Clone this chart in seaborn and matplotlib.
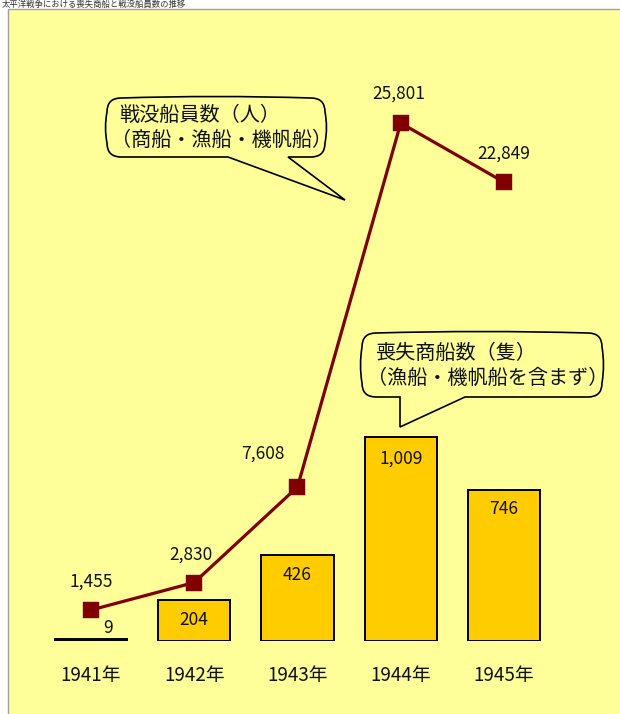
import matplotlib
matplotlib.use("Agg")
import matplotlib.pyplot as plt
import seaborn as sns
import pandas as pd
from matplotlib.path import Path
from matplotlib.patches import PathPatch, Rectangle
from matplotlib.transforms import Affine2D

# ---- data ----
years = ["1941年", "1942年", "1943年", "1944年", "1945年"]
ships_lost = [9, 204, 426, 1009, 746]          # 喪失商船数（隻）
crew_lost = [1455, 2830, 7608, 25801, 22849]   # 戦没船員数（人）
ship_labels = ["9", "204", "426", "1,009", "746"]
crew_labels = ["1,455", "2,830", "7,608", "25,801", "22,849"]
title_text = "太平洋戦争における喪失商船と戦没船員数の推移"
bubble1_lines = ["戦没船員数（人）", "（商船・漁船・機帆船）"]
bubble2_lines = ["喪失商船数（隻）", "（漁船・機帆船を含まず）"]

df = pd.DataFrame({"year": years, "ships": ships_lost, "crew": crew_lost})

sns.set_theme(style="white")
plt.rcParams["font.family"] = ["Noto Sans CJK JP", "DejaVu Sans"]

W, H = 620, 714
fig = plt.figure(figsize=(W / 100, H / 100), dpi=100)
fig.patch.set_facecolor("white")

BG = "#FFFF99"
BAR = "#FFCC00"
LINE = "#800000"

# pixel transform (x right, y down)
pix = Affine2D().scale(1 / W, -1 / H).translate(0, 1) + fig.transFigure

# background panel with grey border
fig.patches.append(Rectangle((8, 9), 700, 800, transform=pix, facecolor=BG,
                             edgecolor="#A0A0A0", linewidth=1.0, zorder=-5))

# title squeezed into the top strip
fig.text(2 / W, 1 - 4.5 / H, title_text, ha="left", va="center",
         fontsize=6, color="#333333")

# axes geometry
base_px = 641
top_px = 50
ax = fig.add_axes([0, (H - base_px) / H, 1, (base_px - top_px) / H])
ax.patch.set_visible(False)

sns.barplot(data=df, x="year", y="ships", color=BAR, edgecolor="black",
            linewidth=1.4, width=0.70, saturation=1, ax=ax, zorder=2)

ax2 = ax.twinx()
ax2.patch.set_visible(False)
sns.pointplot(data=df, x="year", y="crew", color=LINE, marker="s",
              markersize=10.5, linewidth=2.3, errorbar=None, ax=ax2)

spacing = 103.25
x0 = 91
xl = (-x0 / spacing, (W - x0) / spacing)
ax.set_xlim(*xl)
ax2.set_xlim(*xl)

bar_scale = 0.2022
ax.set_ylim(0, (base_px - top_px) / bar_scale)
line_scale = 0.0200
ymin = -1.9 / line_scale
ax2.set_ylim(ymin, ymin + (base_px - top_px) / line_scale)

for a in (ax, ax2):
    for s in a.spines.values():
        s.set_visible(False)
    a.set_yticks([])
    a.set_ylabel("")
    a.set_xlabel("")

ax.set_xticks(range(len(years)))
ax.set_xticklabels(years, fontsize=13.5, color="#111111")
ax.tick_params(axis="x", length=0, pad=17)
ax2.tick_params(axis="x", length=0, labelbottom=False)

# bar value labels
bar_offsets = [(17, 11), (0, -20), (0, -20), (0, -22), (0, -19)]
for i, (v, lab) in enumerate(zip(ships_lost, ship_labels)):
    ax.annotate(lab, (i, v), xytext=bar_offsets[i], textcoords="offset pixels",
                ha="center", va="center", fontsize=12.5, color="#111111", zorder=5)

# line value labels
crew_offsets = [(0, 28), (-3, 28), (-35, 33), (-2, 29), (0, 28)]
for i, (v, lab) in enumerate(zip(crew_lost, crew_labels)):
    ax2.annotate(lab, (i, v), xytext=crew_offsets[i], textcoords="offset pixels",
                 ha="center", va="center", fontsize=12.5, color="#111111")


def bubble(L, T, R, B, tail_right, tip, tail_left, r=14, b=3):
    verts = [
        (L + r, T),
        ((L + R) / 2, T - b), (R - r, T),
        (R, T), (R, T + r),
        (R + b, (T + B) / 2), (R, B - r),
        (R, B), (R - r, B),
        tail_right, tip, tail_left,
        (L + r, B),
        (L, B), (L, B - r),
        (L - b, (T + B) / 2), (L, T + r),
        (L, T), (L + r, T),
        (L + r, T),
    ]
    codes = [Path.MOVETO,
             Path.CURVE3, Path.CURVE3,
             Path.CURVE3, Path.CURVE3,
             Path.CURVE3, Path.CURVE3,
             Path.CURVE3, Path.CURVE3,
             Path.LINETO, Path.LINETO, Path.LINETO,
             Path.LINETO,
             Path.CURVE3, Path.CURVE3,
             Path.CURVE3, Path.CURVE3,
             Path.CURVE3, Path.CURVE3,
             Path.CLOSEPOLY]
    patch = PathPatch(Path(verts, codes), transform=pix, facecolor=BG,
                      edgecolor="black", linewidth=1.2, zorder=6)
    fig.patches.append(patch)


bubble(107, 98, 325, 157, (288, 157), (345, 200), (228, 157))
bubble(362, 333, 602, 397, (465, 397), (400, 427), (400, 397))


def ftext(x, y, s, **kw):
    fig.text(x / W, 1 - y / H, s, ha="left", va="center", fontsize=14.5,
             color="#111111", zorder=7, **kw)


ftext(119, 115, bubble1_lines[0])
ftext(111, 140, bubble1_lines[1])
ftext(375, 353, bubble2_lines[0])
ftext(367, 378, bubble2_lines[1])

fig.savefig("out.png", dpi=100, facecolor=fig.get_facecolor())
